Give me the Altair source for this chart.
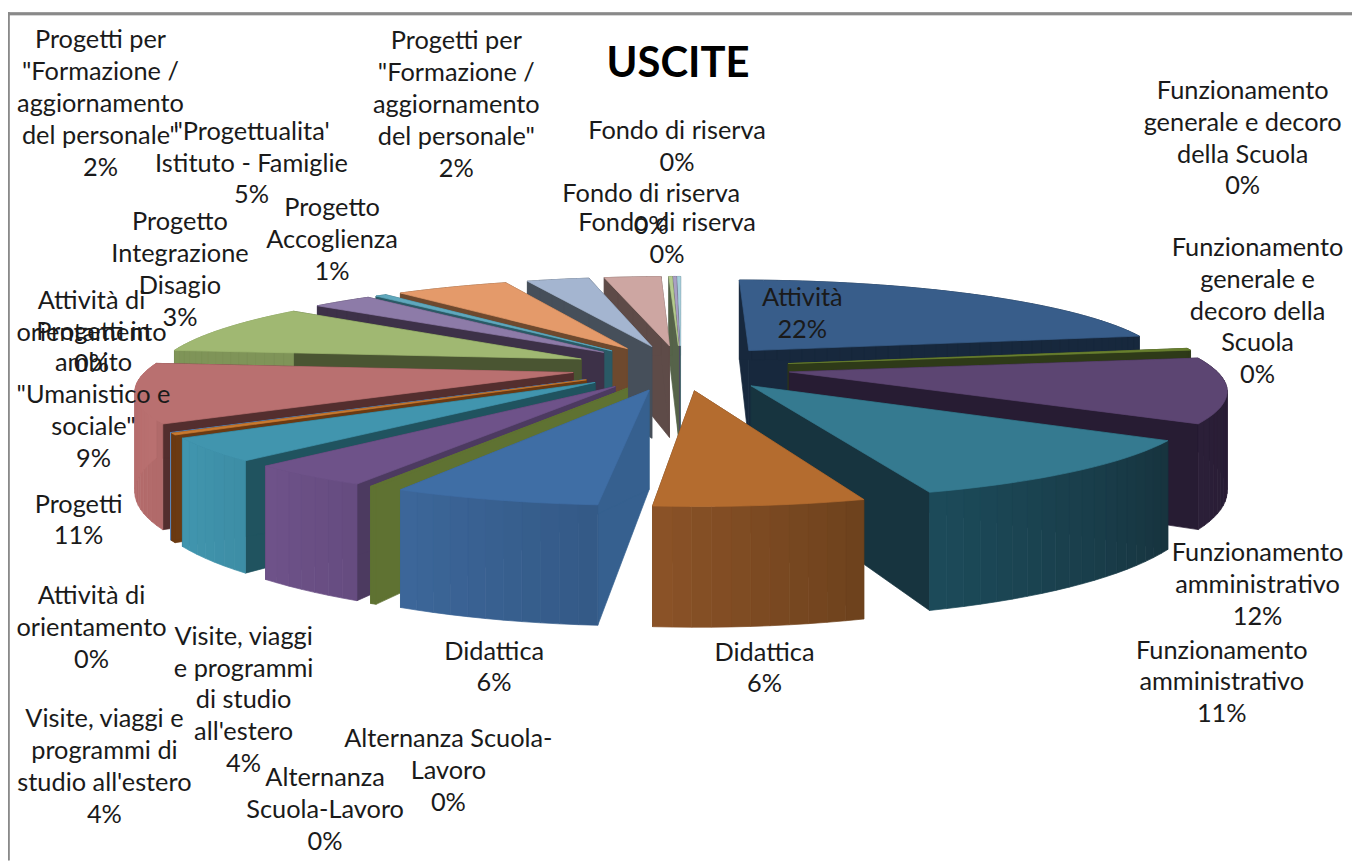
import math
import altair as alt

# ---- chart data -------------------------------------------------------
categories = [
    "Attività", "Funzionamento generale e decoro della Scuola", "Funzionamento generale e decoro della Scuola",
    "Funzionamento amministrativo", "Funzionamento amministrativo", "Didattica", "Didattica",
    "Alternanza Scuola-Lavoro", "Alternanza Scuola-Lavoro", "Visite, viaggi e programmi di studio all'estero",
    "Visite, viaggi e programmi di studio all'estero", "Attività di orientamento", "Attività di orientamento",
    "Progetti", "Progetti in ambito Umanistico e sociale", "Progetto Integrazione Disagio", "Progetto Accoglienza",
    "Progettualita' Istituto - Famiglie", "Progetti per Formazione / aggiornamento del personale",
    "Progetti per Formazione / aggiornamento del personale", "Fondo di riserva", "Fondo di riserva", "Fondo di riserva",
]
shares = [21.86, 0.0, 0.35, 11.36, 10.89, 6.34, 6.28, 0.0, 0.2, 3.86, 4.0, 0.3, 0.06,
          10.37, 8.92, 2.75, 0.5, 5.1, 2.82, 2.56, 0.15, 0.15, 0.15]
top_colors = ["#385d8a", "#8c3836", "#69802f", "#5c4572", "#357a90", "#b46c2f", "#3f6ea5", "#a84b48",
              "#5f7232", "#6e5289", "#4195ae", "#c97a30", "#5c87bd", "#b97070", "#a0b872", "#8d7ba8",
              "#5fa8bd", "#e49a6a", "#a4b5d0", "#cda6a2", "#b5cc8e", "#a9a0c4", "#a8d0dc"]
side_colors = ["#17283d", "#3d1817", "#2e3a18", "#271c33", "#17343f", "#5e3a19", "#36608f", "#4a2221",
               "#5f7232", "#4c3a60", "#20535f", "#6b3a12", "#2f4a6c", "#532e2e", "#4a5532", "#3d3148",
               "#2a5a66", "#6e492e", "#464f5a", "#5e4b48", "#56634a", "#4d4860", "#4d6a72"]
rim_near = ["#17283d", "#3d1817", "#2e3a18", "#2b1f38", "#1c4a59", "#8a5227", "#3c6699", "#4a2221",
            "#5f7232", "#6e5289", "#4195ae", "#6b3a12", "#5c87bd", "#b97070", "#7f9458", "#3d3148",
            "#2a5a66", "#6e492e", "#464f5a", "#5e4b48", "#56634a", "#4d4860", "#4d6a72"]
rim_far = ["#17283d", "#3d1817", "#2e3a18", "#241a30", "#17343f", "#6e421d", "#345a87", "#4a2221",
           "#5f7232", "#664c80", "#3d8ea6", "#6b3a12", "#5c87bd", "#b16a6a", "#7f9458", "#3d3148",
           "#2a5a66", "#6e492e", "#464f5a", "#5e4b48", "#56634a", "#4d4860", "#4d6a72"]

label_texts = [
    "Progetti per\n\"Formazione /\naggiornamento\ndel personale\"\n2%",
    "\"Progettualita'\nIstituto - Famiglie\n5%",
    "Progetto\nAccoglienza\n1%",
    "Progetto\nIntegrazione\nDisagio\n3%",
    "Progetti per\n\"Formazione /\naggiornamento\ndel personale\"\n2%",
    "Fondo di riserva\n0%", "Fondo di riserva\n0%", "Fondo di riserva\n0%",
    "Funzionamento\ngenerale e decoro\ndella Scuola\n0%",
    "Funzionamento\ngenerale e\ndecoro della\nScuola\n0%",
    "Attività\n22%",
    "Funzionamento\namministrativo\n12%",
    "Funzionamento\namministrativo\n11%",
    "Didattica\n6%", "Didattica\n6%",
    "Alternanza Scuola-\nLavoro\n0%",
    "Alternanza\nScuola-Lavoro\n0%",
    "Visite, viaggi\ne programmi\ndi studio\nall'estero\n4%",
    "Visite, viaggi e\nprogrammi di\nstudio all'estero\n4%",
    "Attività di\norientamento\n0%",
    "Progetti\n11%",
    "Progetti in\nambito\n\"Umanistico e\nsociale\"\n9%",
    "Attività di\norientamento\n0%",
]
label_cx = [101, 253, 334, 181, 459, 681, 655, 671, 1250, 1265, 807, 1265, 1229, 769, 497, 451, 327, 245, 105, 92, 79, 94, 92]
label_y0 = [38, 130, 207, 221, 39, 129, 193, 222, 89, 247, 297, 554, 652, 654, 653, 741, 780, 638, 721, 597, 505, 331, 300]

title_text = ["USCITE"]

# ---- perspective of the exploded 3-D pie -------------------------------
CX, HORIZON, DEPTH_K, RADIUS_K, PERSP, EXPLODE, EXTRUDE = 685, -160, 527, 427, 0.167, 0.258, 96


def project(x, y, bottom=False):
    u = 1 / (1 - PERSP * y)
    sx = CX + RADIUS_K * x * u
    sy = HORIZON + DEPTH_K * u + (EXTRUDE * u if bottom else 0)
    return [round(sx, 2), round(sy, 2)]


def mix(a, b, t):
    ca = [int(a[i:i + 2], 16) for i in (1, 3, 5)]
    cb = [int(b[i:i + 2], 16) for i in (1, 3, 5)]
    return "#%02x%02x%02x" % tuple(round(p + (q - p) * t) for p, q in zip(ca, cb))


def feature(ring, color):
    ring = ring + [ring[0]]
    return {"type": "Feature", "properties": {"color": color},
            "geometry": {"type": "Polygon", "coordinates": [ring]}}


total = sum(shares)
slices = []
angle = 0.0
for i, s in enumerate(shares):
    sweep = 2 * math.pi * s / total
    if s > 0:
        slices.append((i, angle, angle + sweep))
    angle += sweep

features = []
for i, a0, a1 in sorted(slices, key=lambda t: -math.cos((t[1] + t[2]) / 2)):
    mid = (a0 + a1) / 2
    ox, oy = EXPLODE * math.sin(mid), -EXPLODE * math.cos(mid)
    steps = max(2, int((a1 - a0) / math.radians(2)))
    rim = [(ox + math.sin(a0 + (a1 - a0) * k / steps), oy - math.cos(a0 + (a1 - a0) * k / steps))
           for k in range(steps + 1)]
    for end in (rim[0], rim[-1]):
        features.append(feature([project(ox, oy), project(*end), project(*end, True), project(ox, oy, True)],
                                side_colors[i]))
    for k in range(steps):
        t = k / max(1, steps - 1)
        features.append(feature([project(*rim[k]), project(*rim[k + 1]), project(*rim[k + 1], True), project(*rim[k], True)],
                                mix(rim_far[i], rim_near[i], t)))
    features.append(feature([project(ox, oy)] + [project(*p) for p in rim], top_colors[i]))

frame = [
    feature([[8, 10], [1360, 10], [1360, 12.5], [8, 12.5]], "#8a8a8a"),
    feature([[8, 10], [9.5, 10], [9.5, 863], [8, 863]], "#8a8a8a"),
]

PROJ = dict(type="identity", scale=1, translate=[-8, -8])

shapes = alt.Chart(alt.Data(values=frame + features)).mark_geoshape(strokeWidth=0.7).encode(
    color=alt.Color("properties.color:N", scale=None, legend=None),
    stroke=alt.Stroke("properties.color:N", scale=None, legend=None),
).project(**PROJ)

labels = alt.Chart(alt.Data(values=[
    {"t": t, "x": x, "y": y} for t, x, y in zip(label_texts, label_cx, label_y0)
])).mark_text(font="Lato", fontSize=25.5, lineHeight=32, lineBreak="\n", align="center",
              baseline="middle", color="#1a1a1a").encode(
    longitude="x:Q", latitude="y:Q", text="t:N").project(**PROJ)

title = alt.Chart(alt.Data(values=[{"t": title_text[0], "x": 682, "y": 62}])).mark_text(
    font="Lato", fontSize=42, fontWeight="bold", align="center", baseline="middle", color="#000000").encode(
    longitude="x:Q", latitude="y:Q", text="t:N").project(**PROJ)

chart = alt.layer(shapes, labels, title).properties(
    width=1352, height=855, padding=0, background="white",
    autosize=alt.AutoSizeParams(type="none"),
).configure_view(stroke=None)

chart.save("out.html", embed_options={"renderer": "svg", "actions": False})
